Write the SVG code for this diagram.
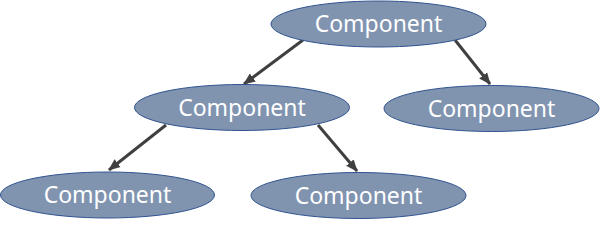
<svg xmlns="http://www.w3.org/2000/svg" width="600" height="225" viewBox="0 0 600 225">
<style>
.node ellipse{fill:#8094B0;stroke:#2F528F;stroke-width:1}
.node text{fill:#fff;font-family:"Noto Sans","Open Sans",sans-serif;font-size:23px;text-anchor:middle;dominant-baseline:central}
.edge{stroke:#404040;stroke-width:3;fill:none;marker-end:url(#ah)}
</style>
<defs>
<marker id="ah" markerUnits="userSpaceOnUse" markerWidth="12" markerHeight="12" viewBox="0 0 12 12" refX="11" refY="6" orient="auto">
<path d="M0,1 L12,6 L0,11 Z" fill="#404040"/>
</marker>
</defs>
<rect width="600" height="225" fill="#fff"/>
<g id="connectors">
<line class="edge" x1="303" y1="40" x2="244" y2="84"/>
<line class="edge" x1="455" y1="40" x2="490" y2="84"/>
<line class="edge" x1="166" y1="125" x2="109" y2="170"/>
<line class="edge" x1="318" y1="125" x2="357" y2="171"/>
</g>
<g id="n-root" class="node"><ellipse cx="378.5" cy="24" rx="107.5" ry="23"/><text x="378.5" y="23">Component</text></g>
<g id="n-midleft" class="node"><ellipse cx="242" cy="107.5" rx="107.5" ry="23"/><text x="242" y="106.5">Component</text></g>
<g id="n-midright" class="node"><ellipse cx="491.5" cy="108.5" rx="107.5" ry="23"/><text x="491.5" y="107.5">Component</text></g>
<g id="n-botleft" class="node"><ellipse cx="107.5" cy="195" rx="107" ry="23"/><text x="107.5" y="194">Component</text></g>
<g id="n-botright" class="node"><ellipse cx="358.5" cy="195.5" rx="107.5" ry="23"/><text x="358.5" y="194.5">Component</text></g>
</svg>
